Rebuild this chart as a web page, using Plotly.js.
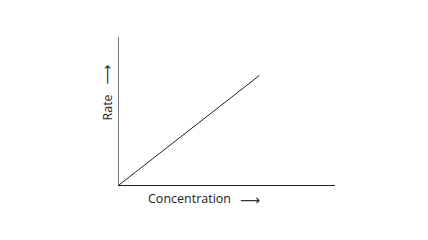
<!DOCTYPE html>
<html><head><meta charset="utf-8">
<script src="https://cdn.plot.ly/plotly-3.0.1.min.js"></script>
<style>html,body{margin:0;padding:0;background:#fff}#chart{width:428px;height:240px}</style>
</head><body><div id="chart"></div>
<script>
const concentration = [0, 65];
const rate = [0, 74];
const xLabel = "Concentration";
const yLabel = "Rate";
const arrow = "⟶";

const trace = {x: concentration, y: rate, mode: "lines", type: "scatter",
  line: {color: "#222", width: 1}, hoverinfo: "skip"};

const arrowFont = {size: 14, family: "DejaVu Sans", color: "#333"};

const layout = {
  width: 428, height: 240,
  margin: {l: 119, r: 93, t: 37, b: 55},
  paper_bgcolor: "#fff", plot_bgcolor: "#fff",
  showlegend: false,
  font: {family: "Open Sans", size: 12.5, color: "#222"},
  xaxis: {range: [0, 100], showline: true, linecolor: "#222", linewidth: 1,
    showgrid: false, zeroline: false, showticklabels: false, ticks: "", fixedrange: true},
  yaxis: {range: [0, 100], showline: true, linecolor: "#777", linewidth: 1,
    showgrid: false, zeroline: false, showticklabels: false, ticks: "", fixedrange: true},
  annotations: [
    {text: xLabel, xref: "paper", yref: "paper", x: (189.5-119)/216, y: -(198-185)/148,
     showarrow: false, xanchor: "center", yanchor: "middle"},
    {text: arrow, xref: "paper", yref: "paper", x: (250-119)/216, y: -(200-185)/148,
     showarrow: false, xanchor: "center", yanchor: "middle", font: arrowFont},
    {text: yLabel, xref: "paper", yref: "paper", x: -(119-106.5)/216, y: (185-108)/148,
     textangle: -90, showarrow: false, xanchor: "center", yanchor: "middle"},
    {text: arrow, xref: "paper", yref: "paper", x: -(119-106.7)/216, y: (185-75)/148,
     textangle: -90, showarrow: false, xanchor: "center", yanchor: "middle", font: arrowFont}
  ]
};
Plotly.newPlot("chart", [trace], layout, {staticPlot: true, displayModeBar: false});
</script></body></html>
